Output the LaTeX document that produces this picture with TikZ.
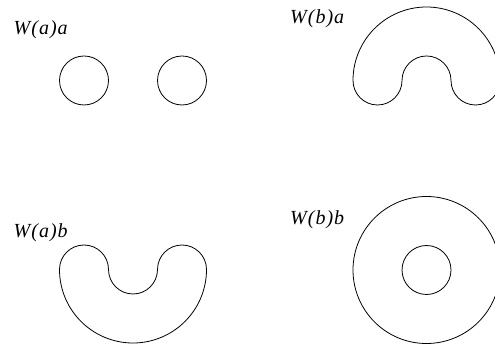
\documentclass[tikz,border=0pt]{standalone}
\usepackage{fontspec}
\setmainfont{Liberation Serif}
\newfontfamily\labfont[LetterSpace=5]{Liberation Serif Italic}
\tikzset{
  lab/.style={anchor=base west, inner sep=0pt, font=\labfont\fontsize{20}{20}\selectfont},
  curve/.style={draw, line width=0.8pt}
}
\begin{document}
\begin{tikzpicture}[x=1pt,y=1pt]
\useasboundingbox (0,0) rectangle (495,345);
\clip (0,0) rectangle (495,345);
% labels
\node[lab] (laa) at (13.5,310.5) {W(a)a};
\node[lab] (lba) at (290,321) {W(b)a};
\node[lab] (lab2) at (13.5,107) {W(a)b};
\node[lab] (lbb) at (290,120) {W(b)b};
% W(a)a: two circles
\path[curve] (84,264.5) circle[radius=24.5];
\path[curve] (182,264.5) circle[radius=24.5];
% W(b)a: upper horseshoe
\path[curve] (353,264.5) arc[start angle=180, end angle=0, radius=73.5]
  arc[start angle=0, end angle=-180, radius=24.5]
  arc[start angle=0, end angle=180, radius=24.5]
  arc[start angle=0, end angle=-180, radius=24.5] -- cycle;
% W(a)b: lower horseshoe
\path[curve] (59.5,75.5) arc[start angle=180, end angle=360, radius=73.5]
  arc[start angle=0, end angle=180, radius=24.5]
  arc[start angle=0, end angle=-180, radius=24.5]
  arc[start angle=0, end angle=180, radius=24.5] -- cycle;
% W(b)b: annulus
\path[curve] (426.5,75) circle[radius=73.5];
\path[curve] (426.5,75) circle[radius=24.5];
\end{tikzpicture}
\end{document}
